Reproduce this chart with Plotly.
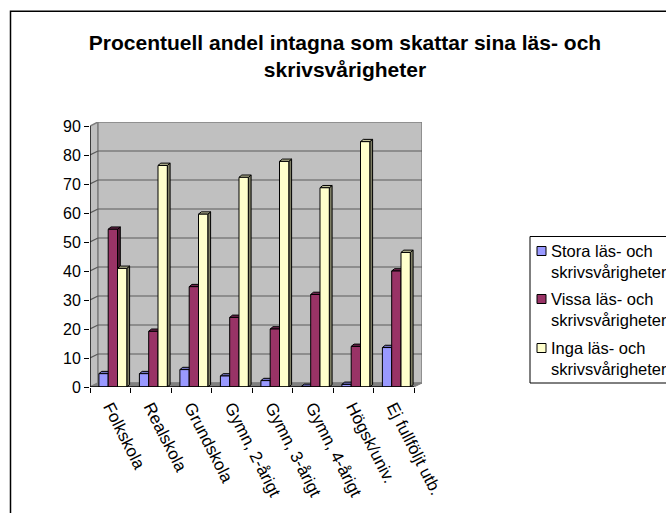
import plotly.graph_objects as go

categories = ["Folkskola", "Realskola", "Grundskola", "Gymn, 2-årigt", "Gymn, 3-årigt",
              "Gymn, 4-årigt", "Högsk/univ.", "Ej fullföljt utb."]
series_names = ["Stora läs- och<br>skrivsvårigheter", "Vissa läs- och<br>skrivsvårigheter",
                "Inga läs- och<br>skrivsvårigheter"]
stora = [4.6, 4.6, 6.0, 3.8, 2.2, 0.2, 0.9, 13.6]
vissa = [54.4, 19.2, 34.6, 24.0, 20.0, 31.9, 14.0, 40.0]
inga = [40.9, 76.4, 59.6, 72.3, 77.8, 68.7, 84.6, 46.4]
y_ticks = list(range(0, 100, 10))
title = "Procentuell andel intagna som skattar sina läs- och<br>skrivsvårigheter"

W, H = 666, 513
FONT = "Liberation Sans, Arial, sans-serif"
# plot geometry in pixels
X0, X1, Y0, Y90 = 90, 414, 387, 126
DX_PX, DY_PX = 8, 4
px_x = (X1 - X0) / len(categories)
px_y = (Y0 - Y90) / 90
dx, dy = DX_PX / px_x, DY_PX / px_y
bdx, bdy = 2.8 / px_x, 2.3 / px_y      # depth of one bar
bar_w = 9.3 / px_x
shift = 2.6 / px_x
n = len(categories)
xmax, ymax = n + dx, 90 + dy

front = ["#9999FF", "#993366", "#FFFFCC"]
side = ["#4C4C7F", "#4C1933", "#7F7F66"]
top = ["#7272BF", "#722650", "#BFBF99"]
all_vals = [stora, vissa, inga]

def poly(points, fill, line="black", width=1, layer="below"):
    d = "M" + " L".join(f"{x},{y}" for x, y in points) + " Z"
    return dict(type="path", path=d, xref="x", yref="y", fillcolor=fill, layer=layer,
                line=dict(color=line, width=width))

def seg(p, q, color, width=1, layer="below"):
    return dict(type="line", xref="x", yref="y", x0=p[0], y0=p[1], x1=q[0], y1=q[1], layer=layer,
                line=dict(color=color, width=width))

shapes = []
# outer frame
shapes.append(dict(type="rect", xref="paper", yref="paper", x0=10.5 / W, x1=1.05, y0=-0.05, y1=1 - 11.3 / H,
                   line=dict(color="black", width=1.5), fillcolor="white", layer="below"))
# walls and floor
shapes.append(poly([(0, 0), (dx, dy), (dx, ymax), (0, 90)], "#C0C0C0", "#808080", 1.5))
shapes.append(poly([(dx, dy), (xmax, dy), (xmax, ymax), (dx, ymax)], "#C0C0C0", "#808080", 1.5))
shapes.append(poly([(0, 0), (n, 0), (xmax, dy), (dx, dy)], "#808080", "#808080", 1))
# grid
for v in y_ticks[1:-1]:
    shapes.append(seg((0, v), (dx, v + dy), "#5A5A5A", 1.2))
    shapes.append(seg((dx, v + dy), (xmax, v + dy), "#5A5A5A", 1.2))
# depth faces of the bars
offs = [-bar_w, 0, bar_w]
for s, vals in enumerate(all_vals):
    for i, v in enumerate(vals):
        cx = i + 0.5 + shift + offs[s]
        x0, x1 = cx - bar_w / 2, cx + bar_w / 2
        shapes.append(poly([(x1, 0), (x1 + bdx, bdy), (x1 + bdx, v + bdy), (x1, v)], side[s]))
        shapes.append(poly([(x0, v), (x0 + bdx, v + bdy), (x1 + bdx, v + bdy), (x1, v)], top[s]))
# axis lines
shapes.append(seg((0, 0), (n, 0), "black", 1.5, "above"))
shapes.append(seg((0, 0), (0, 90), "black", 1.2, "above"))

# legend box
LX, LT, LB = 530, 236.5, 383
shapes.append(dict(type="rect", xref="paper", yref="paper", x0=LX / W, x1=1.05, y0=1 - LB / H, y1=1 - LT / H,
                   line=dict(color="black", width=1), fillcolor="white"))
annotations = []
centers = [261, 309, 358]
for name, c, col in zip(series_names, centers, front):
    sw = 4.5
    cy = c - 10
    shapes.append(dict(type="rect", xref="paper", yref="paper", x0=537 / W, x1=546 / W,
                       y0=1 - (cy + sw) / H, y1=1 - (cy - sw) / H, fillcolor=col,
                       line=dict(color="black", width=1)))
    annotations.append(dict(text=name, xref="paper", yref="paper", x=551 / W, y=1 - c / H, xanchor="left",
                            yanchor="middle", align="left", showarrow=False, borderpad=0, borderwidth=0,
                            font=dict(family=FONT, size=16.5, color="black")))

fig = go.Figure()
xs = [i + 0.5 + shift for i in range(n)]
for name, vals, col in zip(series_names, all_vals, front):
    fig.add_bar(x=xs, y=vals, name=name.replace("<br>", " "), marker=dict(color=col, line=dict(color="black", width=1)),
                hoverinfo="y")

fig.update_layout(
    width=W, height=H, margin=dict(l=0, r=0, t=0, b=0, autoexpand=False), paper_bgcolor="white",
    plot_bgcolor="rgba(0,0,0,0)",
    barmode="group", bargap=1 - 3 * bar_w, showlegend=False,
    title=dict(text=title, x=345 / W, xanchor="center", y=1 - 50 / H, yanchor="middle",
               font=dict(family=FONT, size=21, color="black", weight="bold")),
    shapes=shapes, annotations=annotations,
    xaxis=dict(domain=[X0 / W, (X1 + DX_PX) / W], range=[0, xmax], tickmode="array",
               tickvals=[i + 0.5 for i in range(n)], ticktext=categories, ticks="", tickangle=63,
               showgrid=False, zeroline=False, showline=False, ticklabelstandoff=6,
               tickfont=dict(family=FONT, size=17, color="black"),
               minor=dict(tickmode="array", tickvals=list(range(n + 1)), ticks="outside", ticklen=5,
                          tickcolor="black", tickwidth=1, showgrid=False)),
    yaxis=dict(domain=[1 - Y0 / H, 1 - (Y90 - DY_PX) / H], range=[0, ymax], tickmode="array",
               tickvals=y_ticks, ticks="outside", ticklen=5, tickcolor="black", tickwidth=1,
               showgrid=False, zeroline=False, showline=False,
               tickfont=dict(family=FONT, size=16, color="black")),
)
fig.write_html("out.html", config=dict(displayModeBar=False),
               post_script="document.body.style.margin='0';document.body.style.overflow='hidden';")
